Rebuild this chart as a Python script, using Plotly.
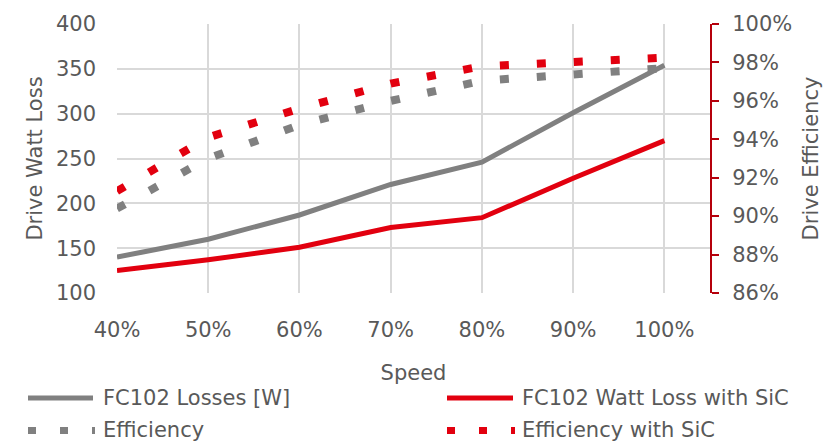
import plotly.graph_objects as go

speed = [0.4, 0.5, 0.6, 0.7, 0.8, 0.9, 1.0]
loss = [140, 160, 187, 221, 246, 301, 354]
loss_sic = [125, 137, 151, 173, 184, 228, 270]
eff = [0.904, 0.930, 0.9475, 0.960, 0.9705, 0.974, 0.977]
eff_sic = [0.913, 0.941, 0.956, 0.969, 0.978, 0.9805, 0.9825]

names = ["FC102 Losses [W]", "FC102 Watt Loss with SiC", "Efficiency", "Efficiency with SiC"]
GRAY = "#808080"
RED = "#E2000F"
AXRED = "#B5000C"
TXT = "#595959"
FONT = "DejaVu Sans"
FS = 21

fig = go.Figure()
fig.add_trace(go.Scatter(x=speed, y=loss, mode="lines", name=names[0],
                         line=dict(color=GRAY, width=5), showlegend=False))
fig.add_trace(go.Scatter(x=speed, y=loss_sic, mode="lines", name=names[1],
                         line=dict(color=RED, width=5), showlegend=False))
fig.add_trace(go.Scatter(x=speed, y=eff, mode="lines", name=names[2], yaxis="y2",
                         line=dict(color=GRAY, width=8, dash="9px,28px"), showlegend=False))
fig.add_trace(go.Scatter(x=speed, y=eff_sic, mode="lines", name=names[3], yaxis="y2",
                         line=dict(color=RED, width=8, dash="9px,28px"), showlegend=False))

L, R, T, B = 117, 710, 19, 293
W, H = 836, 447
pw, ph = R - L, B - T

def px(x):
    return (x - L) / pw

def py(y):
    return (B - y) / ph

# custom legend
leg = [
    (28, 93, 103, 400, GRAY, "solid", 5, names[0]),
    (447, 513, 522, 400, RED, "solid", 5, names[1]),
    (28, 95, 103, 433, GRAY, "8px,24px", 7, names[2]),
    (447, 515, 522, 433, RED, "8px,24px", 7, names[3]),
]
for x0, x1, xt, yy, col, dash, w, nm in leg:
    fig.add_shape(type="line", xref="paper", yref="paper",
                  x0=px(x0), x1=px(x1), y0=py(yy), y1=py(yy),
                  line=dict(color=col, width=w, dash=dash))
    fig.add_annotation(xref="paper", yref="paper", x=px(xt), y=py(yy),
                       text=nm, showarrow=False, xanchor="left", yanchor="middle",
                       xshift=-2, font=dict(family=FONT, size=FS, color=TXT))

fig.update_layout(
    width=W, height=H,
    margin=dict(l=L, r=W - R, t=T, b=H - B),
    plot_bgcolor="white", paper_bgcolor="white",
    font=dict(family=FONT, size=FS, color=TXT),
    xaxis=dict(range=[0.4, 1.05], dtick=0.1, tick0=0.4, tickformat=".0%",
               showgrid=True, gridcolor="#D9D9D9", gridwidth=1.5,
               zeroline=False, showline=False, ticks="",
               ticklabelstandoff=22,
               title=dict(text="Speed", standoff=24, font=dict(size=FS))),
    yaxis=dict(range=[100, 400], dtick=50, showgrid=True, gridcolor="#D9D9D9",
               gridwidth=1.5, zeroline=False, showline=False, ticks="",
               ticklabelstandoff=20,
               title=dict(text="Drive Watt Loss", standoff=7, font=dict(size=FS))),
    yaxis2=dict(range=[0.86, 1.0], dtick=0.02, tickformat=".0%", overlaying="y",
                side="right", showgrid=False, zeroline=False, showline=True,
                linecolor=AXRED, linewidth=2, ticks="outside", ticklen=7,
                tickcolor=AXRED, tickwidth=2, ticklabelstandoff=9,
                title=dict(text="Drive Efficiency", standoff=12, font=dict(size=FS))),
)

fig.write_html("out.html")
